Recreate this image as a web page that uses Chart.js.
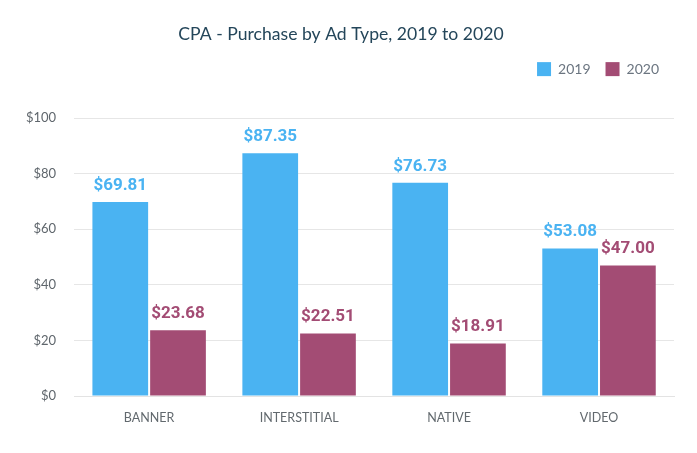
<!DOCTYPE html>
<html>
<head>
<meta charset="utf-8">
<script src="https://cdn.jsdelivr.net/npm/chart.js@4/dist/chart.umd.min.js"></script>
<style>
    body { margin: 0; background: #fff; }
    #chartContainer { width: 697px; height: 453px; }
</style>
</head>
<body>
<div id="chartContainer">
    <canvas id="cpaChart"></canvas>
</div>
<script>
const categories = ['BANNER', 'INTERSTITIAL', 'NATIVE', 'VIDEO'];
const values2019 = [69.81, 87.35, 76.73, 53.08];
const values2020 = [23.68, 22.51, 18.91, 47.00];
const yTicks = [0, 20, 40, 60, 80, 100];

const blue = '#4ab3f2';
const plum = '#a34c74';

// draws the $ value above every bar
const valueLabels = {
    id: 'valueLabels',
    afterDatasetsDraw(chart) {
        const ctx = chart.ctx;
        ctx.save();
        ctx.font = 'bold 17px Roboto';
        ctx.textAlign = 'center';
        ctx.textBaseline = 'bottom';
        chart.data.datasets.forEach((ds, i) => {
            const meta = chart.getDatasetMeta(i);
            ctx.fillStyle = ds.backgroundColor;
            meta.data.forEach((bar, j) => {
                ctx.fillText('$' + ds.data[j].toFixed(2), bar.x, bar.y - 8);
            });
        });
        ctx.restore();
    }
};

// extra room between legend and plot
const legendSpace = {
    id: 'legendSpace',
    beforeInit(chart) {
        const fit = chart.legend.fit;
        chart.legend.fit = function () {
            fit.bind(chart.legend)();
            this.height += 32;
        };
    }
};

const ctx = document.getElementById('cpaChart').getContext('2d');

new Chart(ctx, {
    type: 'bar',
    data: {
        labels: categories,
        datasets: [{
            label: '2019',
            data: values2019,
            backgroundColor: blue,
            categoryPercentage: 0.77,
            barPercentage: 0.965
        }, {
            label: '2020',
            data: values2020,
            backgroundColor: plum,
            categoryPercentage: 0.77,
            barPercentage: 0.965
        }]
    },
    options: {
        responsive: true,
        maintainAspectRatio: false,
        animation: false,
        layout: {
            padding: { left: 8, right: 23, top: 24, bottom: 22 }
        },
        plugins: {
            title: {
                display: true,
                text: 'CPA - Purchase by Ad Type, 2019 to 2020',
                color: '#24465a',
                font: { family: 'Lato', size: 17.6, weight: 'normal' },
                padding: { top: 0, bottom: 2 }
            },
            legend: {
                align: 'end',
                labels: {
                    boxWidth: 14,
                    boxHeight: 14,
                    padding: 15,
                    color: '#6b7580',
                    font: { family: 'Lato', size: 14 }
                }
            },
            tooltip: { enabled: false }
        },
        scales: {
            x: {
                grid: { display: false },
                border: { color: '#e3e3e3' },
                ticks: {
                    color: '#62696e',
                    font: { family: 'Lato', size: 12.5 },
                    padding: 6
                }
            },
            y: {
                min: 0,
                max: 100,
                afterBuildTicks: axis => {
                    axis.ticks = yTicks.map(v => ({ value: v }));
                },
                grid: { color: '#e6e6e6', drawTicks: false },
                border: { display: false },
                ticks: {
                    color: '#5f666c',
                    font: { family: 'Lato', size: 13 },
                    padding: 18,
                    callback: v => '$' + v
                }
            }
        }
    },
    plugins: [valueLabels, legendSpace]
});
</script>
</body>
</html>
